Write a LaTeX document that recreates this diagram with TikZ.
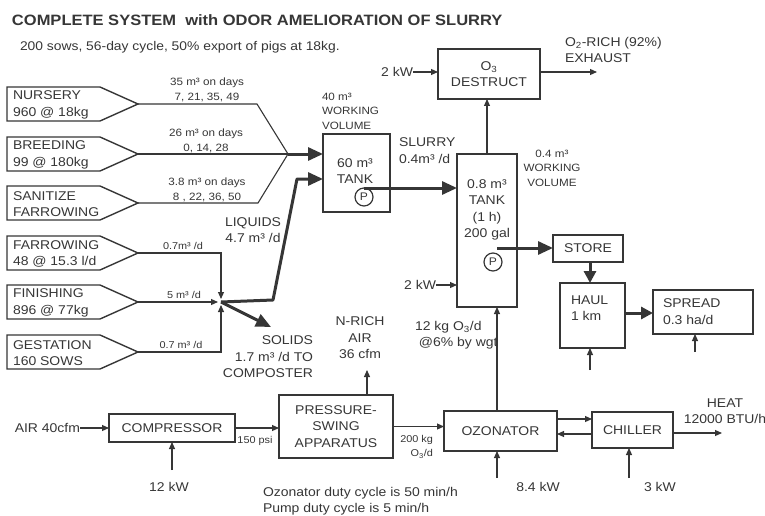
\documentclass[tikz,border=0pt]{standalone}
\usepackage{fontspec}
\setmainfont[FakeStretch=1.1]{Liberation Sans}
\usetikzlibrary{arrows.meta}
\definecolor{ink}{HTML}{363636}
\newcommand\bxfont{\fontsize{12.7}{16.5}\selectfont}
\newcommand\smfont{\fontsize{9.9}{14}\selectfont}
\newcommand\upfont{\fontsize{10.6}{14.5}\selectfont}
\newcommand\wvfont{\fontsize{10.6}{14.5}\selectfont}
\begin{document}
\begin{tikzpicture}[x=1pt,y=-1pt,
  every node/.style={text=ink, inner sep=0pt, outer sep=0pt},
  blk/.style={draw=ink, line width=1.4pt, align=center, font=\bxfont},
  src/.style={draw=ink, line width=1.4pt, line join=miter},
  ln/.style={draw=ink, line width=1.1pt},
  arr/.style={ln, -{Triangle[length=7pt,width=6pt]}},
  bigarr/.style={draw=ink, line width=3pt, line join=round, -{Triangle[length=15pt,width=13pt]}},
  lab/.style={font=\bxfont, align=center},
  sml/.style={font=\smfont, align=center},
  upl/.style={font=\upfont, align=center},
  wv/.style={font=\wvfont},
  pump/.style={circle, draw=ink, line width=1.2pt, minimum size=18pt, font=\fontsize{11}{12}\selectfont},
]
\useasboundingbox (0,0) rectangle (765,516);

% titles
\node[anchor=base west, font=\fontsize{15}{18}\selectfont\bfseries] (title) at (12,26) {COMPLETE SYSTEM\ \ with ODOR AMELIORATION OF SLURRY};
\node[anchor=base west, font=\fontsize{12.6}{15}\selectfont] (sub) at (20,51) {200 sows, 56-day cycle, 50\% export of pigs at 18kg.};

% source pentagons
\draw[src] (7,87) -- (100,87) -- (138,104) -- (100,121) -- (7,121) -- cycle;
\draw[src] (7,137) -- (100,137) -- (138,154) -- (100,171) -- (7,171) -- cycle;
\draw[src] (7,186) -- (100,186) -- (138,203) -- (100,220) -- (7,220) -- cycle;
\draw[src] (7,236) -- (100,236) -- (138,253) -- (100,270) -- (7,270) -- cycle;
\draw[src] (7,285) -- (100,285) -- (138,302) -- (100,319) -- (7,319) -- cycle;
\draw[src] (7,335) -- (100,335) -- (138,352) -- (100,369) -- (7,369) -- cycle;
\node[lab, align=left, anchor=west] (nur) at (13,105) {NURSERY\\960 @ 18kg};
\node[lab, align=left, anchor=west] (bre) at (13,155) {BREEDING\\99 @ 180kg};
\node[lab, align=left, anchor=west] (san) at (13,204) {SANITIZE\\FARROWING};
\node[lab, align=left, anchor=west] (far) at (13,254) {FARROWING\\48 @ 15.3 l/d};
\node[lab, align=left, anchor=west] (fin) at (13,303) {FINISHING\\896 @ 77kg};
\node[lab, align=left, anchor=west] (ges) at (13,353) {GESTATION\\160 SOWS};
\coordinate (nurT) at (138,104);
\coordinate (breT) at (138,154);
\coordinate (sanT) at (138,203);
\coordinate (farT) at (138,253);
\coordinate (finT) at (138,302);
\coordinate (gesT) at (138,352);

% flow labels
\node[upl] (l1) at (207,90) {35 m³ on days\\7, 21, 35, 49};
\node[upl] (l2) at (206,141) {26 m³ on days\\0, 14, 28};
\node[upl] (l3) at (207,190) {3.8 m³ on days\\8 , 22, 36, 50};
\node[sml] (l4) at (183,246) {0.7m³ /d};
\node[sml] (l5) at (184,295) {5 m³ /d};
\node[sml] (l6) at (181,345) {0.7 m³ /d};

% tanks
\node[blk, minimum width=67pt, minimum height=78pt] (tank60) at (356.5,173) {};
\node[lab] (tank60t) at (355,171) {60 m³\\TANK};
\node[pump] (p1) at (364,197) {P};
\node[wv, align=left, anchor=west] (wv1) at (322,111) {40 m³\\WORKING\\VOLUME};

\node[blk, minimum width=60pt, minimum height=153pt] (tank08) at (487,230.5) {};
\node[lab] (tank08t) at (487,210) {0.8 m³\\TANK\\(1 h)\\200 gal};
\node[pump] (p2) at (493,262) {P};
\node[wv, align=center] (wv2) at (552,168) {0.4 m³\\WORKING\\VOLUME};

% upper joins
\coordinate (M) at (288,154);
\draw[ln] (nurT) -- (257,104) -- (M);
\draw[ln] (breT) -- (M);
\draw[ln] (sanT) -- (258,203) -- (M);
\draw[bigarr] (M) -- (M -| tank60.west);

% lower joins
\coordinate (J) at (221,302);
\draw[arr, shorten >=3pt] (farT) -- (221,253) -- (J);
\draw[arr, shorten >=3pt] (finT) -- (J);
\draw[arr, shorten >=3pt] (gesT) -- (221,352) -- (J);
\coordinate (L1) at (273,300);
\coordinate (L2) at (297,179);
\draw[bigarr] (J) -- (L1) -- (L2) -- (L2 -| tank60.west);
\coordinate (S) at (271,327);
\draw[bigarr] (J) -- (S);
\node[lab] (liq) at (253,230) {LIQUIDS\\4.7 m³ /d};
\node[lab, align=right, anchor=east] (sol) at (313,357) {SOLIDS\\1.7 m³ /d TO\\COMPOSTER};

% slurry
\draw[bigarr] (p1.north) -- (p1.north -| tank08.west);
\node[lab, align=left, anchor=west] (slu) at (399,150.5) {SLURRY\\0.4m³ /d};

% 2 kW into tank
\node[lab, anchor=east] (kw2b) at (436,285) {2 kW};
\draw[arr] (kw2b.east) -- (kw2b.east -| tank08.west);

% destruct
\node[blk, minimum width=102pt, minimum height=50pt] (destr) at (489,74) {O\textsubscript{3}\\DESTRUCT};
\node[lab, anchor=east] (kw2a) at (413,72) {2 kW};
\draw[arr] (kw2a.east) -- (kw2a.east -| destr.west);
\coordinate (exh) at (597,72);
\draw[arr] (destr.east |- exh) -- (exh);
\node[lab, align=left, anchor=west] (o2r) at (565,50) {O\textsubscript{2}-RICH (92\%)\\EXHAUST};
\draw[arr] (tank08.north) -- (tank08.north |- destr.south);

% store / haul / spread
\node[blk, minimum width=70pt, minimum height=27pt] (store) at (588,248.5) {STORE};
\coordinate (s2) at ([xshift=4pt,yshift=5pt]p2.north);
\draw[bigarr] (s2) -- (s2 -| store.west);
\node[blk, minimum width=65pt, minimum height=65pt] (haul) at (592.5,315.5) {};
\node[lab, align=left, anchor=west] (hault) at (571,308) {HAUL\\1 km};
\draw[bigarr, -{Triangle[length=12pt,width=12pt]}] ([xshift=2pt]store.south) -- ([xshift=2pt]store.south |- haul.north);
\node[blk, minimum width=100pt, minimum height=44pt] (spread) at (703,312) {};
\node[lab, align=left, anchor=west] (spreadt) at (663,311.5) {SPREAD\\0.3 ha/d};
\draw[bigarr, -{Triangle[length=12pt,width=12pt]}] (haul.east |- 0,313) -- (spread.west |- 0,313);
\coordinate (hb) at (590,370);
\draw[arr] (hb) -- (hb |- haul.south);
\coordinate (sb) at (695,352);
\draw[arr] (sb) -- (sb |- spread.south);

% bottom chain
\node[blk, minimum width=126pt, minimum height=28pt] (comp) at (172,428) {COMPRESSOR};
\node[lab, anchor=east] (air) at (80,428) {AIR 40cfm};
\draw[arr] (air.east) -- (air.east -| comp.west);
\node[blk, minimum width=114pt, minimum height=63pt] (psa) at (336,426.5) {PRESSURE-\\SWING\\APPARATUS};
\draw[arr] (comp.east) -- (comp.east -| psa.west);
\node[sml] (psi) at (255,441) {150 psi};
\coordinate (kw12) at (172,470);
\draw[arr] (kw12) -- (kw12 |- comp.south);
\node[lab] (kw12t) at (169,487) {12 kW};

\coordinate (pt) at (367,395);
\coordinate (ptE) at (367,370);
\draw[arr] (pt) -- (ptE);
\node[lab] (nrich) at (360,338) {N-RICH\\AIR\\36 cfm};

\node[blk, minimum width=113pt, minimum height=40pt] (ozon) at (500.5,431) {OZONATOR};
\draw[arr] (psa.east) -- (psa.east -| ozon.west);
\node[sml, align=right, anchor=east] (o3d) at (433,447) {200 kg\\O\textsubscript{3}/d};
\coordinate (oz1) at ([xshift=-3.5pt]ozon.north);
\draw[arr] (oz1) -- (oz1 |- tank08.south);
\node[lab, align=left, anchor=west] (o3w) at (415,335) {12 kg O\textsubscript{3}/d\\\ @6\% by wgt};
\coordinate (oz2) at (497,478);
\draw[arr] (oz2) -- (oz2 |- ozon.south);
\node[lab] (kw84) at (538,487) {8.4 kW};

\node[blk, minimum width=81pt, minimum height=36pt] (chil) at (632.5,430) {CHILLER};
\draw[arr] (ozon.east |- 0,419) -- (chil.west |- 0,419);
\draw[arr] (chil.west |- 0,434) -- (ozon.east |- 0,434);
\coordinate (heat) at (722,433);
\draw[arr] (chil.east |- heat) -- (heat);
\node[lab] (heatt) at (725,411) {HEAT\\12000 BTU/h};
\coordinate (ch3) at (629,478);
\draw[arr] (ch3) -- (ch3 |- chil.south);
\node[lab] (kw3) at (660,487) {3 kW};

\node[lab, align=left, anchor=west] (notes) at (263,501) {Ozonator duty cycle is 50 min/h\\Pump duty cycle is 5 min/h};
\end{tikzpicture}
\end{document}
